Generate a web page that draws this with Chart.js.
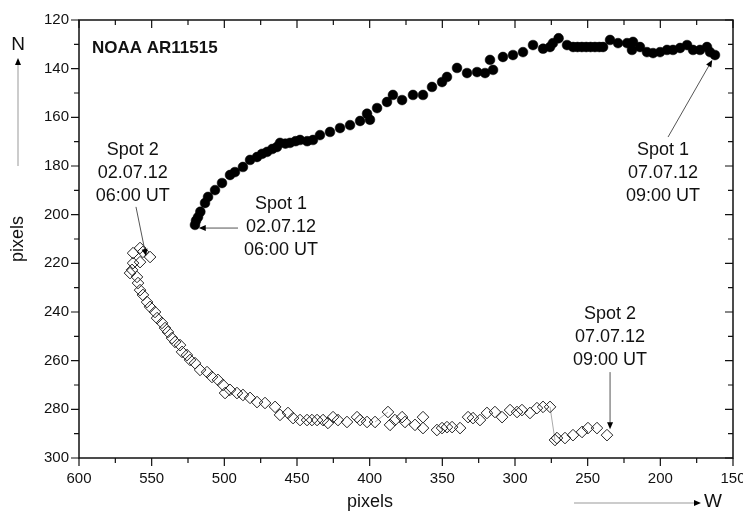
<!DOCTYPE html>
<html>
<head>
<meta charset="utf-8">
<script src="https://cdn.jsdelivr.net/npm/chart.js@4.4.0/dist/chart.umd.min.js"></script>
<style>
  html, body { margin: 0; padding: 0; background: #fff; }
</style>
</head>
<body>
<canvas id="track" width="743" height="513"></canvas>
<script>
// Spot 1 (filled circles), 02.07.12 06:00 UT -> 07.07.12 09:00 UT
const spot1X = [520.2, 519.5, 518.1, 516.5, 513.3, 511.2, 506.4, 501.6, 496.1, 492.7, 487.2,
  482.3, 477.5, 474.0, 470.6, 467.0, 463.8, 461.7, 458.0, 454.8, 451.0, 447.9, 443.0, 439.0, 434.2, 427.3,
  420.4, 413.5, 406.6, 401.8, 399.8, 394.9, 388.1, 384.0, 377.7, 370.2,
  363.3, 357.1, 350.2, 346.8, 339.9, 333.0, 326.1, 320.6, 317.2, 315.1,
  308.3, 301.4, 294.5, 287.6, 280.7, 275.9, 273.9, 270.0, 264.2, 260.0,
  257.0, 254.0, 251.0, 248.0, 245.0, 242.0, 239.4, 234.6, 229.1, 222.9,
  218.8, 219.5, 214.0, 209.2, 205.0, 200.2, 195.4, 191.3, 186.4, 181.6,
  177.5, 172.7, 167.9, 165.8, 162.4];
const spot1Y = [204.2, 202.5, 201.0, 198.8, 195.2, 192.7, 189.9, 187.0, 183.7, 182.5, 180.4,
  177.5, 176.3, 175.0, 174.2, 173.0, 172.2, 170.5, 170.8, 170.5, 169.8, 169.3, 169.8, 169.3, 167.3, 166.0,
  164.4, 163.2, 161.5, 158.5, 161.0, 156.2, 153.7, 150.8, 152.9, 150.8,
  150.8, 147.5, 145.5, 143.4, 139.7, 141.8, 141.4, 141.8, 136.4, 140.5,
  135.2, 134.4, 133.2, 130.3, 131.8, 131.1, 129.5, 127.5, 130.3, 131.1,
  131.1, 131.1, 131.1, 131.1, 131.1, 131.1, 131.1, 128.2, 129.5, 129.5,
  129.0, 132.3, 131.1, 133.2, 133.6, 133.2, 132.3, 132.3, 131.5, 130.3,
  132.3, 132.3, 131.1, 133.2, 134.4];

// Spot 2 (open diamonds)
const spot2X = [558.0, 562.8, 556.0, 551.1, 558.0, 562.8, 563.5, 564.9, 560.1, 559.4,
  558.0, 556.0, 553.2, 551.1, 547.7, 546.3, 542.9, 540.8, 538.8, 536.0,
  533.9, 530.5, 529.1, 525.7, 523.6, 520.2, 516.7, 511.9, 508.5, 504.4,
  500.9, 499.5, 496.1, 491.3, 487.2, 482.3, 477.5, 472.0, 465.1, 461.7,
  456.2, 452.7, 447.9, 443.1, 439.7, 436.2, 432.1, 428.7, 425.2, 421.8,
  415.6, 408.7, 406.6, 401.8, 396.3, 387.4, 386.0, 382.6, 377.7, 375.7,
  368.8, 363.3, 363.3, 353.7, 350.2, 346.8, 343.3, 337.8, 332.3, 328.9,
  324.1, 319.3, 313.8, 308.9, 303.4, 298.6, 295.2, 289.7, 284.9, 280.7,
  275.9, 272.5, 271.1, 265.6, 260.1, 253.9, 249.8, 243.6, 236.7];
const spot2Y = [213.7, 215.8, 215.3, 217.4, 219.5, 219.9, 222.7, 224.0, 225.6, 228.1,
  231.0, 233.0, 235.9, 237.9, 240.0, 242.5, 244.5, 246.6, 248.2, 250.7,
  252.3, 253.6, 256.4, 257.7, 259.7, 261.0, 263.8, 264.7, 266.7, 267.9,
  270.0, 273.3, 272.0, 273.3, 274.1, 275.3, 277.0, 277.4, 279.0, 282.3,
  281.5, 283.6, 284.4, 284.4, 284.4, 284.4, 284.4, 285.6, 283.2, 284.4,
  285.2, 283.2, 284.4, 285.2, 285.2, 281.1, 286.4, 284.4, 283.2, 285.2,
  286.4, 283.2, 287.7, 288.5, 287.7, 287.3, 287.3, 287.7, 283.2, 283.6,
  284.4, 281.5, 281.1, 283.2, 280.3, 281.1, 280.3, 281.5, 279.5, 279.0,
  279.0, 292.6, 291.8, 291.8, 290.6, 289.3, 287.7, 287.7, 290.6];

const xTicks = [600, 550, 500, 450, 400, 350, 300, 250, 200, 150];
const yTicks = [120, 140, 160, 180, 200, 220, 240, 260, 280, 300];

// labels with arrows, in data units
const notes = [
  { lines: ['Spot 2', '02.07.12', '06:00 UT'], x: 563, y: 173.4, from: [560.8, 196.8], to: [553.9, 217.0] },
  { lines: ['Spot 1', '02.07.12', '06:00 UT'], x: 461, y: 195.6, from: [490.6, 205.5], to: [517.6, 205.5] },
  { lines: ['Spot 1', '07.07.12', '09:00 UT'], x: 198.2, y: 173.4, from: [194.7, 168.1], to: [164.3, 136.4] },
  { lines: ['Spot 2', '07.07.12', '09:00 UT'], x: 234.6, y: 240.8, from: [234.6, 264.7], to: [234.6, 288.2] }
];

const FONT = '"Liberation Sans", Arial, sans-serif';

function arrow(ctx, x1, y1, x2, y2, lineColor) {
  const a = Math.atan2(y2 - y1, x2 - x1);
  const len = 7, half = 3;
  ctx.strokeStyle = lineColor;
  ctx.lineWidth = 1;
  ctx.beginPath();
  ctx.moveTo(x1, y1);
  ctx.lineTo(x2 - Math.cos(a) * len * 0.8, y2 - Math.sin(a) * len * 0.8);
  ctx.stroke();
  ctx.fillStyle = '#000';
  ctx.beginPath();
  ctx.moveTo(x2, y2);
  ctx.lineTo(x2 - Math.cos(a) * len - Math.sin(a) * half, y2 - Math.sin(a) * len + Math.cos(a) * half);
  ctx.lineTo(x2 - Math.cos(a) * len + Math.sin(a) * half, y2 - Math.sin(a) * len - Math.cos(a) * half);
  ctx.closePath();
  ctx.fill();
}

const decor = {
  id: 'decor',
  afterDraw(chart) {
    const ctx = chart.ctx;
    const xs = chart.scales.x, ys = chart.scales.y;
    const a = chart.chartArea;
    ctx.save();

    // frame
    ctx.strokeStyle = '#111';
    ctx.lineWidth = 1.5;
    ctx.strokeRect(a.left, a.top, a.right - a.left, a.bottom - a.top);

    // major + minor ticks: out on bottom/left, in on top/right
    ctx.lineWidth = 1.2;
    ctx.beginPath();
    xTicks.forEach((v, i) => {
      const px = xs.getPixelForValue(v);
      ctx.moveTo(px, a.bottom); ctx.lineTo(px, a.bottom + 8);
      ctx.moveTo(px, a.top); ctx.lineTo(px, a.top + 8);
      if (i < xTicks.length - 1) {
        const mx = xs.getPixelForValue((v + xTicks[i + 1]) / 2);
        ctx.moveTo(mx, a.bottom); ctx.lineTo(mx, a.bottom + 5);
        ctx.moveTo(mx, a.top); ctx.lineTo(mx, a.top + 5);
      }
    });
    yTicks.forEach((v, i) => {
      const py = ys.getPixelForValue(v);
      ctx.moveTo(a.left, py); ctx.lineTo(a.left - 8, py);
      ctx.moveTo(a.right, py); ctx.lineTo(a.right - 8, py);
      if (i < yTicks.length - 1) {
        const my = ys.getPixelForValue((v + yTicks[i + 1]) / 2);
        ctx.moveTo(a.left, my); ctx.lineTo(a.left - 5, my);
        ctx.moveTo(a.right, my); ctx.lineTo(a.right - 5, my);
      }
    });
    ctx.stroke();

    // title
    ctx.fillStyle = '#111';
    ctx.font = 'bold 17px ' + FONT;
    ctx.textAlign = 'left';
    ctx.textBaseline = 'middle';
    ctx.fillText('NOAA AR11515', 92, 48);

    // notes
    ctx.font = '18px ' + FONT;
    ctx.textAlign = 'center';
    notes.forEach(n => {
      const tx = xs.getPixelForValue(n.x), ty = ys.getPixelForValue(n.y);
      ctx.fillStyle = '#111';
      n.lines.forEach((t, i) => ctx.fillText(t, tx, ty + i * 23));
      arrow(ctx, xs.getPixelForValue(n.from[0]), ys.getPixelForValue(n.from[1]),
        xs.getPixelForValue(n.to[0]), ys.getPixelForValue(n.to[1]), '#555');
    });

    // axis titles
    ctx.fillStyle = '#111';
    ctx.font = '18px ' + FONT;
    ctx.fillText('pixels', 370, 502);
    ctx.save();
    ctx.translate(18, (a.top + a.bottom) / 2);
    ctx.rotate(-Math.PI / 2);
    ctx.fillText('pixels', 0, 0);
    ctx.restore();

    // compass arrows
    ctx.font = '19px ' + FONT;
    ctx.fillStyle = '#111';
    ctx.fillText('N', 18, 45);
    ctx.fillText('W', 713, 502);
    arrow(ctx, 18, 166, 18, 58, '#999');
    arrow(ctx, 574, 503, 701, 503, '#999');

    ctx.restore();
  }
};

const tickFont = { family: FONT, size: 15 };

new Chart(document.getElementById('track'), {
  type: 'scatter',
  data: {
    datasets: [
      {
        label: 'Spot 1',
        data: spot1X.map((x, i) => ({ x: x, y: spot1Y[i] })),
        pointStyle: 'circle',
        pointRadius: 4.9,
        pointBackgroundColor: '#000',
        pointBorderColor: '#000',
        pointBorderWidth: 0.5,
        showLine: false
      },
      {
        label: 'Spot 2',
        data: spot2X.map((x, i) => ({ x: x, y: spot2Y[i] })),
        pointStyle: 'rectRot',
        pointRadius: 5.8,
        pointBackgroundColor: 'rgba(0,0,0,0)',
        pointBorderColor: '#222',
        pointBorderWidth: 1,
        showLine: true,
        borderWidth: 1,
        borderColor: '#aaa',
        segment: {
          borderColor: ctx => Math.hypot(ctx.p1.x - ctx.p0.x, ctx.p1.y - ctx.p0.y) > 15 ? '#aaa' : 'rgba(0,0,0,0)'
        }
      }
    ]
  },
  options: {
    responsive: false,
    animation: false,
    layout: { padding: { top: 20, right: 10, left: 0, bottom: 0 } },
    plugins: {
      legend: { display: false },
      tooltip: { enabled: false }
    },
    scales: {
      x: {
        type: 'linear',
        position: 'bottom',
        min: 150,
        max: 600,
        reverse: true,
        afterBuildTicks: s => { s.ticks = xTicks.map(v => ({ value: v })); },
        afterFit: s => { s.height = 55; s.paddingLeft = 0; s.paddingRight = 0; },
        ticks: { font: tickFont, color: '#111', padding: 4, maxRotation: 0, autoSkip: false },
        grid: { display: false, drawTicks: true, tickLength: 8 },
        border: { display: false }
      },
      y: {
        type: 'linear',
        min: 120,
        max: 300,
        reverse: true,
        afterBuildTicks: s => { s.ticks = yTicks.map(v => ({ value: v })); },
        afterFit: s => { s.width = 79; s.paddingTop = 0; s.paddingBottom = 0; },
        ticks: { font: tickFont, color: '#111', padding: 2, autoSkip: false },
        grid: { display: false, drawTicks: true, tickLength: 8 },
        border: { display: false }
      }
    }
  },
  plugins: [decor]
});
</script>
</body>
</html>
